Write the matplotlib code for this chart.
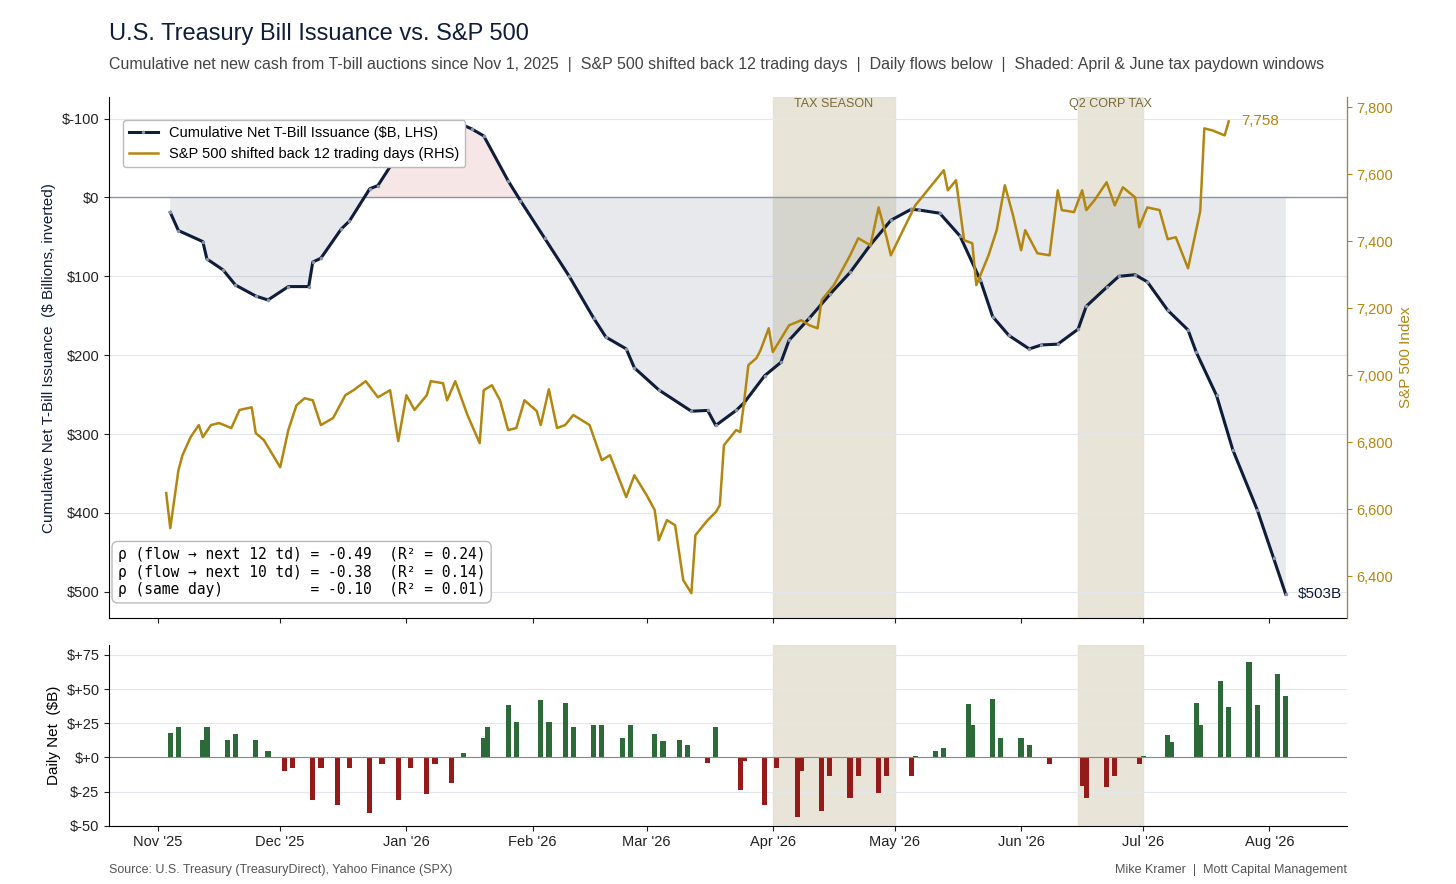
import numpy as np
import pandas as pd
import matplotlib.pyplot as plt
import matplotlib.dates as mdates

start = pd.Timestamp('2025-11-01')

# cumulative net T-bill issuance ($B), day offset from Nov 1 2025
cum_days = [3, 5, 11, 12, 16, 19, 24, 27, 32, 37, 38, 40, 45, 47, 52, 54, 58, 62, 66, 73, 77, 80, 86, 89,
            95, 101, 107, 110, 115, 117, 123, 131, 135, 137, 142, 144, 149, 153, 155, 160, 165, 170, 175,
            180, 185, 187, 192, 197, 202, 205, 209, 214, 217, 221, 226, 228, 233, 236, 240, 243, 248, 253,
            255, 260, 264, 270, 274, 277]
cum_vals = [19, 42, 56, 78, 92, 111, 125, 130, 113, 113, 82, 77, 40, 30, -11, -15, -47, -68, -82, -96, -87,
            -78, -21, 4, 52, 100, 153, 177, 192, 216, 244, 271, 270, 289, 270, 260, 226, 209, 181, 153, 123,
            95, 60, 29, 15, 16, 20, 49, 105, 151, 175, 192, 187, 186, 167, 138, 114, 100, 98, 107, 143, 168,
            196, 251, 320, 396, 457, 503]

# S&P 500 shifted back 12 trading days
spx_days = [2, 3, 5, 6, 8, 10, 11, 13, 15, 18, 20, 23, 24, 26, 30, 32, 34, 36, 38, 40, 43, 46, 48, 51, 54,
            57, 59, 61, 63, 66, 67, 70, 71, 73, 76, 79, 80, 82, 84, 86, 88, 90, 93, 94, 96, 98, 100, 102,
            106, 109, 111, 115, 117, 120, 122, 123, 125, 127, 129, 131, 132, 135, 137, 138, 139, 142, 143,
            144, 145, 147, 148, 150, 151, 155, 158, 160, 162, 163, 166, 168, 170, 172, 175, 177, 179, 180,
            183, 186, 188, 191, 193, 194, 196, 198, 200, 201, 204, 206, 208, 210, 212, 213, 216, 219, 221,
            222, 225, 227, 228, 230, 233, 235, 237, 240, 241, 243, 246, 248, 250, 253, 256, 257, 259, 262, 263]
spx_vals = [6648, 6543, 6716, 6761, 6815, 6851, 6815, 6851, 6857, 6842, 6896, 6904, 6827, 6806, 6725, 6836,
            6910, 6931, 6925, 6851, 6872, 6940, 6955, 6982, 6934, 6955, 6803, 6940, 6896, 6940, 6982, 6976,
            6925, 6982, 6881, 6797, 6955, 6970, 6925, 6836, 6842, 6925, 6893, 6851, 6958, 6842, 6851, 6881,
            6851, 6746, 6761, 6636, 6701, 6642, 6597, 6507, 6567, 6552, 6388, 6349, 6522, 6567, 6591, 6612,
            6791, 6836, 6830, 6925, 7030, 7051, 7075, 7140, 7069, 7149, 7164, 7149, 7140, 7224, 7269, 7313,
            7358, 7409, 7388, 7501, 7409, 7358, 7433, 7507, 7537, 7582, 7612, 7552, 7582, 7403, 7394, 7269,
            7358, 7433, 7567, 7478, 7373, 7433, 7364, 7358, 7552, 7493, 7487, 7552, 7493, 7522, 7576, 7507,
            7561, 7531, 7442, 7501, 7493, 7406, 7412, 7319, 7490, 7737, 7731, 7716, 7758]

# daily net flows ($B)
flow_days = [3, 5, 11, 12, 17, 19, 24, 27, 31, 33, 38, 40, 44, 47, 52, 55, 59, 62, 66, 68, 72, 75, 80, 81,
             86, 88, 94, 96, 100, 102, 107, 109, 114, 116, 122, 124, 128, 130, 135, 137, 143, 144, 149, 152,
             157, 158, 163, 165, 170, 172, 177, 179, 185, 186, 191, 193, 199, 200, 205, 207, 212, 214, 219,
             227, 228, 233, 235, 241, 242, 248, 249, 255, 256, 261, 263, 268, 270, 275, 277]
flow_vals = [18, 22, 13, 22, 13, 17, 13, 5, -10, -8, -31, -8, -35, -8, -41, -5, -31, -8, -27, -5, -19, 3, 14,
             22, 38, 26, 42, 26, 40, 22, 24, 24, 14, 24, 17, 12, 13, 9, -4, 22, -24, -3, -35, -8, -44, -10,
             -39, -14, -30, -14, -26, -14, -14, 1, 5, 7, 39, 24, 43, 14, 14, 9, -5, -21, -30, -22, -14, -5, 1,
             16, 11, 40, 24, 56, 37, 70, 38, 61, 45]

windows = [('2026-04-01', '2026-05-01', 'TAX SEASON'), ('2026-06-15', '2026-07-01', 'Q2 CORP TAX')]

navy = '#0f1d3a'
gold = '#b3860f'
shade = '#e6e1d3'

cum_x = start + pd.to_timedelta(cum_days, unit='D')
spx_x = start + pd.to_timedelta(spx_days, unit='D')
flow_x = start + pd.to_timedelta(flow_days, unit='D')
cum = np.array(cum_vals, dtype=float)

plt.rcParams['font.family'] = ['Liberation Sans', 'DejaVu Sans']
fig = plt.figure(figsize=(14.56, 8.84), dpi=100)
ax = fig.add_axes([0.075, 0.301, 0.85, 0.589])
axb = fig.add_axes([0.075, 0.066, 0.85, 0.204])
ax2 = ax.twinx()

xmin, xmax = pd.Timestamp('2025-10-20'), pd.Timestamp('2026-08-20')

for a0, a1, lab in windows:
    ax.axvspan(pd.Timestamp(a0), pd.Timestamp(a1), color=shade, alpha=0.9, zorder=0)
    axb.axvspan(pd.Timestamp(a0), pd.Timestamp(a1), color=shade, alpha=0.9, zorder=0)
    mid = pd.Timestamp(a0) + (pd.Timestamp(a1) - pd.Timestamp(a0)) / 2
    ax.text(mid, -118, lab, ha='center', va='center', fontsize=9, color='#7a6a3a')

ax.fill_between(cum_x, cum, 0, where=cum >= 0, interpolate=True, color='#8a94a8', alpha=0.2, lw=0)
ax.fill_between(cum_x, cum, 0, where=cum <= 0, interpolate=True, color='#e8b8b8', alpha=0.35, lw=0)
ax.axhline(0, color='#8a94a8', lw=1)
l1, = ax.plot(cum_x, cum, color=navy, lw=2.2, marker='.', ms=3, mfc='#8a94a8', mec='#8a94a8',
              label='Cumulative Net T-Bill Issuance ($B, LHS)', zorder=4)
l2, = ax2.plot(spx_x, spx_vals, color=gold, lw=1.8, label='S&P 500 shifted back 12 trading days (RHS)')

ax.set_ylim(533, -127)
ax.set_yticks([-100, 0, 100, 200, 300, 400, 500])
ax.set_yticklabels(['$-100', '$0', '$100', '$200', '$300', '$400', '$500'])
ax.set_ylabel('Cumulative Net T-Bill Issuance  ($ Billions, inverted)', fontsize=11, color=navy)
ax.grid(axis='y', color='#e3e6ec', lw=0.8)
ax.set_axisbelow(True)
ax2.set_ylim(6275, 7830)
ax2.set_yticks(range(6400, 7801, 200))
ax2.set_yticklabels([f'{v:,}' for v in range(6400, 7801, 200)])
ax2.tick_params(axis='y', colors=gold, labelsize=10.5)
ax2.set_ylabel('S&P 500 Index', color=gold, fontsize=11)
ax2.spines['right'].set_color(gold)
for s in ['top']:
    ax.spines[s].set_visible(False)
    ax2.spines[s].set_visible(False)
ax2.spines['left'].set_visible(False)
ax2.spines['bottom'].set_visible(False)

for a in (ax, axb):
    a.set_xlim(xmin, xmax)
    a.xaxis.set_major_locator(mdates.MonthLocator())
    a.xaxis.set_major_formatter(mdates.DateFormatter("%b '%y"))
    a.tick_params(labelsize=10.5, colors='#222')
ax.tick_params(axis='x', labelbottom=False)

ax.text(cum_x[-1] + pd.Timedelta(days=3), cum[-1], f'${cum_vals[-1]}B', fontsize=11, color=navy, va='center')
ax2.text(spx_x[-1] + pd.Timedelta(days=3), spx_vals[-1], f'{spx_vals[-1]:,}', fontsize=11, color=gold, va='center')

ax.legend(handles=[l1, l2], loc='upper left', bbox_to_anchor=(0.005, 0.97), fontsize=10.5, framealpha=1,
          edgecolor='#bbb')
ax.text(0.007, 0.04, 'ρ (flow → next 12 td) = -0.49  (R² = 0.24)\n'
                     'ρ (flow → next 10 td) = -0.38  (R² = 0.14)\n'
                     'ρ (same day)          = -0.10  (R² = 0.01)',
        transform=ax.transAxes, family=['DejaVu Sans Mono'], fontsize=10.5, va='bottom',
        bbox=dict(boxstyle='round,pad=0.4', fc='white', ec='#bbb'))

colors = ['#2d6a3a' if v >= 0 else '#951b1b' for v in flow_vals]
axb.bar(flow_x, flow_vals, width=1.3, color=colors)
axb.axhline(0, color='#888', lw=0.8)
axb.set_ylim(-50, 82)
axb.set_yticks([-50, -25, 0, 25, 50, 75])
axb.set_yticklabels(['$-50', '$-25', '$+0', '$+25', '$+50', '$+75'])
axb.set_ylabel('Daily Net  ($B)', fontsize=11)
axb.grid(axis='y', color='#e3e6ec', lw=0.8)
axb.set_axisbelow(True)
axb.spines['top'].set_visible(False)
axb.spines['right'].set_visible(False)

fig.text(0.075, 0.955, 'U.S. Treasury Bill Issuance vs. S&P 500', fontsize=17, color=navy)
fig.text(0.075, 0.935, 'Cumulative net new cash from T-bill auctions since Nov 1, 2025  |  S&P 500 shifted back 12 '
         'trading days  |  Daily flows below  |  Shaded: April & June tax paydown windows',
         fontsize=11.5, color='#444', va='top')
fig.text(0.075, 0.012, 'Source: U.S. Treasury (TreasuryDirect), Yahoo Finance (SPX)', fontsize=9, color='#555')
fig.text(0.925, 0.012, 'Mike Kramer  |  Mott Capital Management', fontsize=9, color='#555', ha='right')

fig.savefig('out.png', dpi=100)
